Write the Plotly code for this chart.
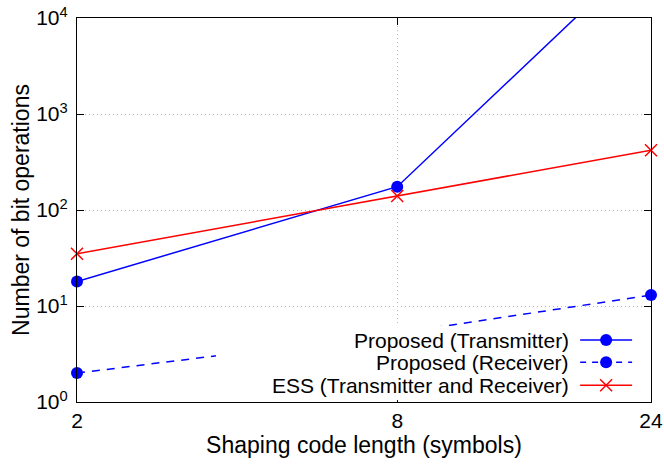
import math
import plotly.graph_objects as go

# ---- data ----
code_length = [2, 8, 24]
tx_ops = [18, 175, 56000]          # Proposed (Transmitter)
rx_ops = [2, 5.2, 13]              # Proposed (Receiver)
ess_ops = [35, 140, 420]           # ESS (Transmitter and Receiver)

x_ticks = [2, 8, 24]
x_ticktext = ["2", "8", "24"]
y_ticks = [1, 10, 100, 1000, 10000]
y_ticktext = ["10<sup>0</sup>", "10<sup>1</sup>", "10<sup>2</sup>", "10<sup>3</sup>", "10<sup>4</sup>"]

names = ["Proposed (Transmitter)", "Proposed (Receiver)", "ESS (Transmitter and Receiver)"]

FONT = "Liberation Sans, Arial, Helvetica, sans-serif"
BLUE = "#0000ff"
RED = "#ff0000"

fig = go.Figure()

fig.add_trace(go.Scatter(x=code_length, y=rx_ops, mode="lines+markers",
                         line=dict(color=BLUE, width=1.5, dash="8px,7px"),
                         marker=dict(symbol="circle", size=12, color=BLUE),
                         cliponaxis=False, showlegend=False))
fig.add_trace(go.Scatter(x=code_length, y=tx_ops, mode="lines+markers",
                         line=dict(color=BLUE, width=1.5),
                         marker=dict(symbol="circle", size=12, color=BLUE),
                         cliponaxis=False, showlegend=False))
fig.add_trace(go.Scatter(x=code_length, y=ess_ops, mode="lines+markers",
                         line=dict(color=RED, width=1.5),
                         marker=dict(symbol="x-thin-open", size=12, color=RED,
                                     line=dict(color=RED, width=1.5)),
                         cliponaxis=False, showlegend=False))

# ---- legend (opaque key box drawn as an inset subplot) ----
leg_y = [0.81, 0.51, 0.20]
styles = [dict(color=BLUE, width=1.5), dict(color=BLUE, width=1.5, dash="6px,6px"), dict(color=RED, width=1.5)]
markers = [dict(symbol="circle", size=12, color=BLUE), dict(symbol="circle", size=12, color=BLUE),
           dict(symbol="x-thin-open", size=12, color=RED, line=dict(color=RED, width=1.5))]
for i in range(3):
    fig.add_trace(go.Scatter(x=[0.841, 0.961], y=[leg_y[i], leg_y[i]], mode="lines",
                             line=styles[i], xaxis="x2", yaxis="y2", showlegend=False,
                             hoverinfo="skip"))
    fig.add_trace(go.Scatter(x=[0.901], y=[leg_y[i]], mode="markers", marker=markers[i],
                             xaxis="x2", yaxis="y2", showlegend=False, hoverinfo="skip"))
    fig.add_annotation(x=0.821, y=leg_y[i], xref="x2", yref="y2", text=names[i],
                       showarrow=False, xanchor="right", yanchor="middle",
                       font=dict(family=FONT, size=21, color="black"))

axis_common = dict(showline=True, linecolor="black", linewidth=1.2, mirror="ticks",
                   ticks="inside", ticklen=7, tickcolor="black", tickwidth=1,
                   showgrid=True, gridcolor="#b8b8b8", griddash="1px,3px", gridwidth=1,
                   zeroline=False, automargin=False,
                   tickfont=dict(family=FONT, size=21, color="black"))

x_lo = math.log10(2) - 1e-7
x_hi = math.log10(24) + 1e-7

fig.update_layout(
    width=664, height=464,
    margin=dict(l=77, r=13, t=18, b=62),
    paper_bgcolor="white", plot_bgcolor="white",
    font=dict(family=FONT, size=21, color="black"),
    xaxis=dict(type="log", range=[x_lo, x_hi], tickvals=x_ticks, ticktext=x_ticktext,
               title=dict(text="Shaping code length (symbols)", standoff=2,
                          font=dict(family=FONT, size=23)),
               ticklabelstandoff=0, **axis_common),
    yaxis=dict(type="log", range=[0, 4], tickvals=y_ticks, ticktext=y_ticktext,
               title=dict(text="Number of bit operations", standoff=0,
                          font=dict(family=FONT, size=23)),
               ticklabelstandoff=4, **axis_common),
    xaxis2=dict(domain=[0.242, 0.9965], anchor="y2", range=[0, 1], visible=False, fixedrange=True),
    yaxis2=dict(domain=[0.005, 0.198], anchor="x2", range=[0, 1], visible=False, fixedrange=True),
)

fig.write_html("out.html", config={"displayModeBar": False},
               post_script="document.body.style.margin='0px';")
